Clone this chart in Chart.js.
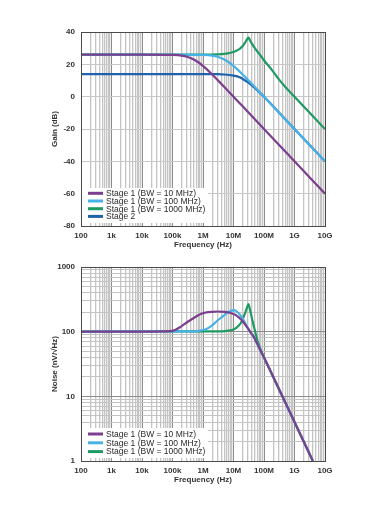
<!DOCTYPE html>
<html><head><meta charset="utf-8">
<script src="https://cdn.jsdelivr.net/npm/chart.js@4.4.0/dist/chart.umd.min.js"></script>
<style>
html,body{margin:0;padding:0;background:#fff;width:380px;height:507px;overflow:hidden;}
#c1{position:absolute;left:0;top:0;}
#c2{position:absolute;left:0;top:255px;}
</style></head><body>
<canvas id="c1" width="380" height="250"></canvas>
<canvas id="c2" width="380" height="235"></canvas>
<script>
// ---------- tick labels ----------
const freqTickValues = [1e2, 1e3, 1e4, 1e5, 1e6, 1e7, 1e8, 1e9, 1e10];
const freqTickLabels = ['100', '1k', '10k', '100k', '1M', '10M', '100M', '1G', '10G'];
const noiseTickValues = [1, 10, 100, 1000];
const noiseTickLabels = ['1', '10', '100', '1000'];
const gainTickValues = [-80, -60, -40, -20, 0, 20, 40];

// ---------- series names / colours ----------
const seriesNames = ['Stage 1 (BW = 10 MHz)', 'Stage 1 (BW = 100 MHz)', 'Stage 1 (BW = 1000 MHz)', 'Stage 2'];
const seriesColors = ['#7b3f8e', '#48b2e6', '#1e9a62', '#1f62ad'];

// ---------- Gain (dB) ----------
const gainFreq10 = [1e2, 1e3, 1e4, 1e5, 2e5, 3e5, 5e5, 7e5, 1e6, 2e6, 3e6, 5e6, 7e6, 1e7, 2e7, 5e7, 1e8, 1e9, 1e10];
const gain10     = [26, 26, 26, 25.8, 25.4, 24.7, 23, 21.3, 19, 13.7, 10.3, 6, 3.1, 0, -6, -14, -20, -40, -60];

const gainFreq100 = [1e2, 1e5, 1e6, 2e6, 3e6, 5e6, 7e6, 1e7, 2e7, 3e7, 5e7, 7e7, 1e8, 1e9, 1e10];
const gain100     = [26, 26, 25.8, 25.4, 24.7, 23, 21.3, 19, 13.7, 10.3, 6, 3.1, 0, -20, -40];

const gainFreq1000 = [1e2, 1e6, 3e6, 5e6, 8e6, 1.2e7, 1.6e7, 2e7, 2.4e7, 2.8e7, 3.1e7, 3.5e7, 4e7, 5e7, 7e7, 1e8, 2e8, 3e8, 5e8, 1e9, 1e10];
const gain1000     = [26, 26, 26.2, 26.5, 27.2, 28.3, 29.6, 31.3, 33.4, 35.6, 36.6, 34.8, 32.8, 30, 26.5, 22.5, 15.5, 11, 6, 0, -20];

const gainFreqStage2 = [1e2, 1e6, 3e6, 5e6, 1e7, 1.6e7, 2e7, 3e7, 5e7, 7e7, 1e8, 2e8, 1e9, 1e10];
const gainStage2     = [14, 14, 13.9, 13.7, 13, 12, 11, 8.9, 5.4, 2.8, 0, -6, -20, -40];

// ---------- Noise (nV/√Hz) ----------
const noiseFreq10 = [1e2, 1e4, 5e4, 1e5, 2e5, 3e5, 5e5, 7e5, 1e6, 2e6, 3e6, 5e6, 7e6, 1e7, 1.3e7, 1.6e7, 2e7, 2.7e7, 3.5e7, 4.5e7, 6e7, 8e7, 1e8, 1e9, 4e9];
const noise10     = [100, 100, 101, 103, 122, 140, 163, 180, 193, 203, 205, 203, 198, 188, 176, 162, 145, 120, 100, 85, 65, 49, 40, 4, 1];

const noiseFreq100 = [1e2, 5e5, 1e6, 1.3e6, 2e6, 3.2e6, 5e6, 6e6, 8e6, 1e7, 1.2e7, 1.6e7, 2e7, 2.7e7, 3.5e7, 4.5e7, 6e7, 8e7, 1e8, 1e9, 4e9];
const noise100     = [100, 101, 106, 110, 125, 153, 180, 194, 208, 215, 210, 185, 160, 122, 100, 84, 65, 49, 40, 4, 1];

const noiseFreq1000 = [1e2, 3e6, 6e6, 1e7, 1.5e7, 1.86e7, 2.4e7, 2.8e7, 3.1e7, 3.5e7, 4e7, 4.5e7, 5e7, 6e7, 7.4e7, 1e8, 1e9, 4e9];
const noise1000     = [100, 101, 103, 108, 125, 144, 194, 240, 267, 215, 163, 128, 105, 75, 56, 40, 4, 1];

// ---------- helpers ----------
const FONT = '"Liberation Sans", Arial, Helvetica, sans-serif';
const pts = (xs, ys) => xs.map((x, i) => ({x: x, y: ys[i]}));
const isDecade = v => Math.abs(Math.log10(v) - Math.round(Math.log10(v))) < 1e-9;
function logGridTicks(min, max) {
  const out = [];
  for (let e = Math.round(Math.log10(min)); e <= Math.round(Math.log10(max)); e++) {
    for (let s = 1; s <= 9; s++) {
      const v = s * Math.pow(10, e);
      if (v >= min * 0.999 && v <= max * 1.001) out.push({value: v, major: s === 1});
    }
  }
  return out;
}
const labelFrom = (vals, labels) => v => {
  for (let i = 0; i < vals.length; i++) if (Math.abs(vals[i] - v) / vals[i] < 1e-6) return labels[i];
  return '';
};

const inLegend = {
  id: 'inLegend',
  beforeDatasetsDraw(chart, args, o) {
    const {ctx, chartArea: a} = chart;
    ctx.save();
    ctx.fillStyle = '#fff';
    ctx.fillRect(a.left + 1, a.bottom + o.boxTop, o.boxWidth, o.boxHeight);
    ctx.font = '8.5px ' + FONT;
    ctx.textBaseline = 'middle';
    ctx.textAlign = 'left';
    chart.data.datasets.forEach((ds, i) => {
      const y = a.bottom + o.firstY + i * o.step;
      ctx.strokeStyle = ds.borderColor;
      ctx.lineWidth = 3;
      ctx.beginPath();
      ctx.moveTo(a.left + 7, y);
      ctx.lineTo(a.left + 22, y);
      ctx.stroke();
      ctx.fillStyle = '#2a2a2a';
      ctx.fillText(ds.label, a.left + 25, y + 0.5);
    });
    ctx.restore();
  },
  afterDraw(chart) {
    const {ctx, chartArea: a} = chart;
    ctx.save();
    ctx.strokeStyle = '#4a4a4a';
    ctx.lineWidth = 1;
    ctx.strokeRect(Math.round(a.left) + 0.5, Math.round(a.top) + 0.5, Math.round(a.right - a.left), Math.round(a.bottom - a.top));
    ctx.restore();
  }
};

const tickFont = {family: FONT, size: 8, weight: 'bold'};
const titleFont = {family: FONT, size: 8, weight: 'bold'};

function xScale() {
  return {
    type: 'logarithmic', min: 1e2, max: 1e10,
    afterBuildTicks: s => { s.ticks = logGridTicks(1e2, 1e10); },
    afterFit: s => { s.height = 24; },
    ticks: {autoSkip: false, maxRotation: 0, minRotation: 0, padding: 5, color: '#333', font: tickFont,
            callback: labelFrom(freqTickValues, freqTickLabels)},
    grid: {drawTicks: false, lineWidth: c => (c.tick && isDecade(c.tick.value)) ? 1 : 1.3,
           color: c => (c.tick && isDecade(c.tick.value)) ? '#8c8c8c' : '#c4c4c4'},
    border: {display: false},
    title: {display: true, text: 'Frequency (Hz)', color: '#333', font: titleFont, padding: {top: 0, bottom: 0}}
  };
}

function mkDatasets(list) {
  return list.map((d, i) => ({
    label: seriesNames[i], data: d, borderColor: seriesColors[i], backgroundColor: seriesColors[i],
    borderWidth: 2.2, pointRadius: 0, fill: false, cubicInterpolationMode: 'monotone'
  }));
}

// ---------- chart 1: Gain ----------
new Chart(document.getElementById('c1'), {
  type: 'line',
  data: {datasets: mkDatasets([pts(gainFreq10, gain10), pts(gainFreq100, gain100), pts(gainFreq1000, gain1000), pts(gainFreqStage2, gainStage2)])},
  options: {
    responsive: false, animation: false,
    layout: {padding: {left: 50, right: 55, top: 32, bottom: 0}},
    plugins: {legend: {display: false}, tooltip: {enabled: false},
              inLegend: {boxTop: -38, boxWidth: 126, boxHeight: 35, firstY: -32.7, step: 7.7}},
    scales: {
      x: xScale(),
      y: {
        type: 'linear', min: -80, max: 40,
        afterBuildTicks: s => { s.ticks = gainTickValues.map(v => ({value: v})); },
        afterFit: s => { s.width = 31; },
        ticks: {padding: 6, color: '#333', font: tickFont, callback: v => String(v)},
        grid: {drawTicks: false, color: '#c8c8c8', lineWidth: 1},
        border: {display: false},
        title: {display: true, text: 'Gain (dB)', color: '#333', font: titleFont, padding: {top: 0, bottom: 0}}
      }
    }
  },
  plugins: [inLegend]
});

// ---------- chart 2: Noise ----------
new Chart(document.getElementById('c2'), {
  type: 'line',
  data: {datasets: mkDatasets([pts(noiseFreq10, noise10), pts(noiseFreq100, noise100), pts(noiseFreq1000, noise1000)])},
  options: {
    responsive: false, animation: false,
    layout: {padding: {left: 50, right: 55, top: 12, bottom: 5}},
    plugins: {legend: {display: false}, tooltip: {enabled: false},
              inLegend: {boxTop: -33, boxWidth: 126, boxHeight: 30, firstY: -27, step: 8.8}},
    scales: {
      x: xScale(),
      y: {
        type: 'logarithmic', min: 1, max: 1000,
        afterBuildTicks: s => { s.ticks = logGridTicks(1, 1000); },
        afterFit: s => { s.width = 31; },
        ticks: {autoSkip: false, padding: 6, color: '#333', font: tickFont,
                callback: labelFrom(noiseTickValues, noiseTickLabels)},
        grid: {drawTicks: false, lineWidth: 1,
               color: c => (c.tick && isDecade(c.tick.value)) ? '#8c8c8c' : '#c4c4c4'},
        border: {display: false},
        title: {display: true, text: 'Noise (nV/√Hz)', color: '#333', font: titleFont, padding: {top: 0, bottom: 0}}
      }
    }
  },
  plugins: [inLegend]
});
</script>
</body></html>
